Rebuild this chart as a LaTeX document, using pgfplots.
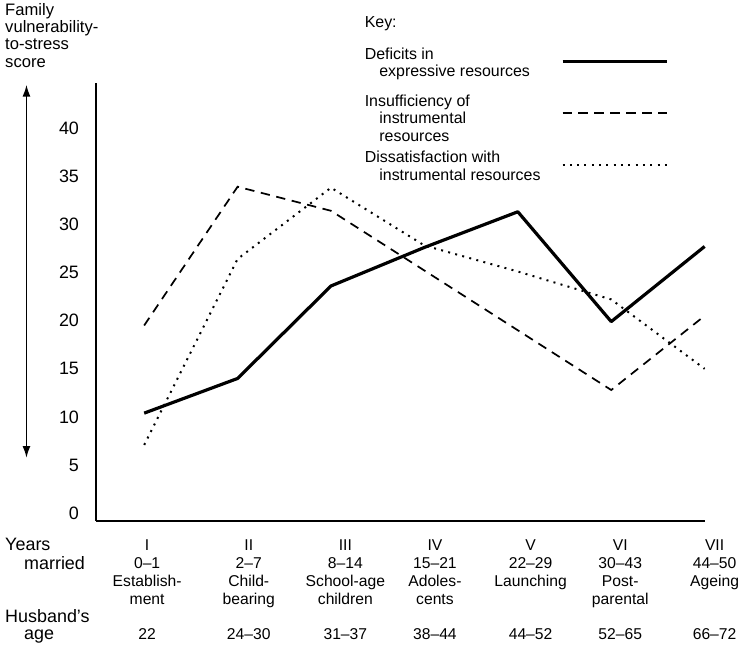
\documentclass[border=0pt]{standalone}
\usepackage{fontspec}
\setmainfont{Liberation Sans}
\usepackage{pgfplots}
\pgfplotsset{compat=1.18}
\usetikzlibrary{arrows.meta}
\newcommand{\lgd}[1]{\begin{tabular}{@{}p{146.75pt}@{}}#1\end{tabular}}
\begin{document}
\begin{tikzpicture}
\begin{axis}[
  at={(0pt,0pt)}, anchor=south west,
  scale only axis, width=459pt, height=330pt,
  xmin=-0.52, xmax=6.005, ymin=-0.78, ymax=44.7,
  axis x line*=bottom, axis y line*=left,
  axis line style={-, line width=1.6pt},
  clip=false,
  ytick={0,5,...,40},
  major tick length=0pt,
  tick style={draw=none},
  /pgf/number format/assume math mode=true,
  yticklabel style={font=\fontsize{13.5}{15}\selectfont, xshift=-9pt},
  xtick={-0.075,1.013,2.047,3.006,4.03,4.99,6.0},
  xticklabels={{I\\0–1\\Establish-\\ment},{II\\2–7\\Child-\\bearing},{III\\8–14\\School-age\\children},{IV\\15–21\\Adoles-\\cents},{V\\22–29\\Launching},{VI\\30–43\\Post-\\parental},{VII\\44–50\\Ageing}},
  xticklabel style={align=center, font=\fontsize{11.8}{13.5}\selectfont, anchor=north, inner sep=0pt, yshift=-14.3pt, xshift=7.5pt},
  extra x ticks={-0.075,1.013,2.047,3.006,4.03,4.99,6.0},
  extra x tick labels={22,24–30,31–37,38–44,44–52,52–65,66–72},
  extra x tick style={xticklabel style={yshift=-66.7pt}},
  legend plot pos=right,
  legend cell align=left,
  legend image code/.code={\draw[#1] (0pt,-2pt) -- (78.75pt,-2pt);},
  legend style={draw=none, fill=none, at={(0.439,1.0845)}, anchor=north west,
    font=\fontsize{12}{13}\selectfont, row sep=16.2pt, inner sep=0pt,
    nodes={inner sep=1pt}},
]
\addplot[black, line width=2.4pt, line join=round] coordinates {(0,10.4) (1,14.0) (2,23.6) (3,27.6) (4,31.3) (5,19.9) (6,27.7)};
\addlegendentry{\lgd{Deficits in\\\hspace*{11pt}expressive resources}}
\addplot[black, line width=1.3pt, dash pattern=on 7pt off 5pt] coordinates {(0,19.5) (1,33.9) (2,31.4) (3,25.2) (4,19.0) (5,12.8) (6,20.5)};
\addlegendentry{\lgd{Insufficiency of\\\hspace*{11pt}instrumental\\\hspace*{11pt}resources}}
\addplot[black, line width=1.5pt, dash pattern=on 1.5pt off 4pt] coordinates {(0,7.1) (1,26.4) (2,33.8) (3,27.8) (4,25.1) (5,22.2) (6,15.0)};
\addlegendentry{\lgd{Dissatisfaction with\\\hspace*{11pt}instrumental resources}}
\draw[{Latex[length=9pt,width=6pt]}-{Latex[length=9pt,width=6pt]}, line width=1.4pt] (axis cs:-1.26,44.5) -- (axis cs:-1.26,5.74);
\end{axis}
\begin{scope}[x=0.75pt,y=-0.75pt,shift={(-72pt,392.25pt)}]
\useasboundingbox (0,0) rectangle (739,656);
\node[anchor=north west, align=left, inner sep=0pt, font=\fontsize{12.5}{13}\selectfont] at (5,3) {Family\\vulnerability-\\to-stress\\score};
\node[anchor=base west, inner sep=0pt, font=\fontsize{12}{13}\selectfont] at (366,28) {Key:};
\node[anchor=base west, inner sep=0pt, font=\fontsize{13.5}{15}\selectfont] at (5,553) {Years};
\node[anchor=base west, inner sep=0pt, font=\fontsize{13.5}{15}\selectfont] at (24,572) {married};
\node[anchor=base west, inner sep=0pt, font=\fontsize{13.5}{15}\selectfont] at (5,625) {Husband's};
\node[anchor=base west, inner sep=0pt, font=\fontsize{13.5}{15}\selectfont] at (24,642) {age};
\end{scope}
\end{tikzpicture}
\end{document}
